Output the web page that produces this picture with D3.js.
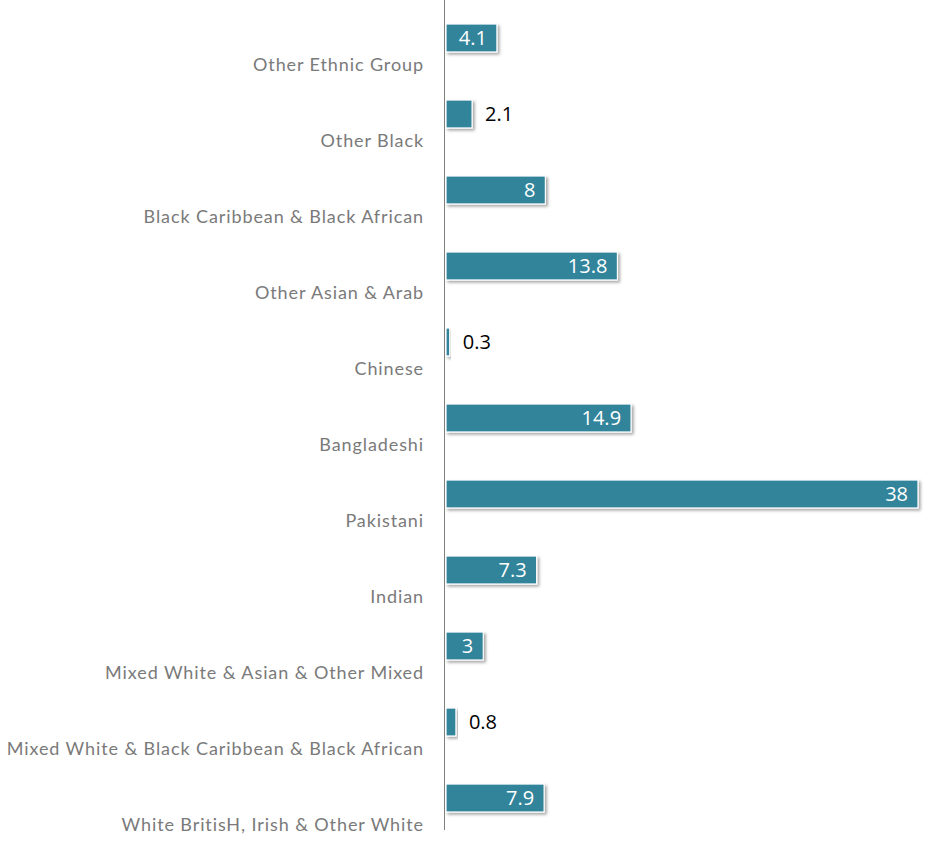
<!DOCTYPE html>
<html>
<head>
<meta charset="utf-8">
<script src="https://cdn.jsdelivr.net/npm/d3@7"></script>
<style>
  html, body { margin: 0; padding: 0; background: #fff; }
  svg { display: block; }
</style>
</head>
<body>
<svg id="chart" width="926" height="857"></svg>
<script>
const categories = [
  "Other Ethnic Group",
  "Other Black",
  "Black Caribbean & Black African",
  "Other Asian & Arab",
  "Chinese",
  "Bangladeshi",
  "Pakistani",
  "Indian",
  "Mixed White & Asian & Other Mixed",
  "Mixed White & Black Caribbean & Black African",
  "White BritisH, Irish & Other White"
];
const values = [4.1, 2.1, 8, 13.8, 0.3, 14.9, 38, 7.3, 3, 0.8, 7.9];

const svg = d3.select("#chart");
const x0 = 446;
const x = d3.scaleLinear().domain([0, 38]).range([x0, 918]);
const y = d3.scaleBand().domain(categories).range([24, 812]).paddingInner(0.632).paddingOuter(0);

const defs = svg.append("defs");
const f = defs.append("filter").attr("id", "shadow").attr("x", "-10%").attr("y", "-30%").attr("width", "130%").attr("height", "180%");
f.append("feDropShadow").attr("dx", 2).attr("dy", 2).attr("stdDeviation", 1.5).attr("flood-color", "#000").attr("flood-opacity", 0.35);

const data = categories.map((c, i) => ({ c, v: values[i] }));

// bars
svg.append("g").selectAll("rect").data(data).join("rect")
  .attr("x", x0)
  .attr("y", d => y(d.c))
  .attr("width", d => x(d.v) - x0)
  .attr("height", y.bandwidth())
  .attr("fill", "#31849b")
  .attr("stroke", "#ffffff")
  .attr("stroke-width", 1.2)
  .attr("filter", "url(#shadow)");

// axis line
svg.append("line")
  .attr("x1", 444.5).attr("x2", 444.5)
  .attr("y1", 0).attr("y2", 830)
  .attr("stroke", "#808080").attr("stroke-width", 1);

// category labels
svg.append("g").selectAll("text").data(data).join("text")
  .attr("x", 424)
  .attr("y", d => y(d.c) + y.bandwidth() / 2 + 33)
  .attr("text-anchor", "end")
  .attr("font-family", "Lato, 'Open Sans', sans-serif")
  .attr("font-size", 18)
  .attr("letter-spacing", 0.9)
  .attr("fill", "#7a7a7a")
  .text(d => d.c);

// value labels
const fmt = v => String(v);
svg.append("g").selectAll("text").data(data).join("text")
  .each(function(d) {
    const w = x(d.v) - x0;
    const inside = w > 34;
    d3.select(this)
      .attr("x", inside ? x(d.v) - 10 : x(d.v) + 13)
      .attr("text-anchor", inside ? "end" : "start")
      .attr("fill", inside ? "#ffffff" : "#000000");
  })
  .attr("y", d => y(d.c) + y.bandwidth() / 2 + 7)
  .attr("font-family", "'Open Sans', 'Noto Sans', sans-serif")
  .attr("font-size", 20)
  .text(d => fmt(d.v));
</script>
</body>
</html>
